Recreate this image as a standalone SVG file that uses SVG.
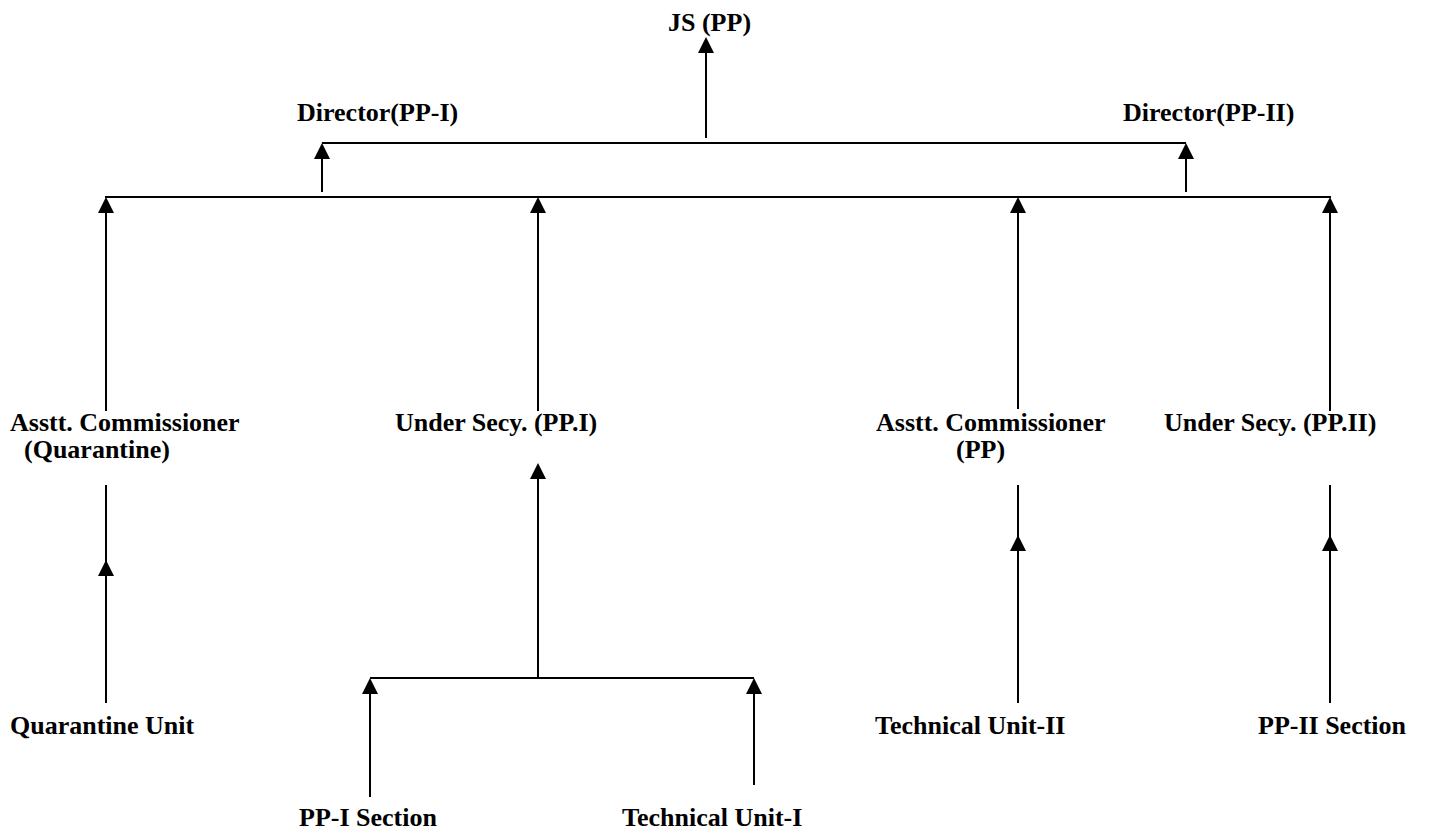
<svg xmlns="http://www.w3.org/2000/svg" width="1431" height="835" viewBox="0 0 1431 835">
<style>
text{font-family:"Liberation Serif","Times New Roman",serif;font-weight:bold;font-size:26px;fill:#000}
.ln{stroke:#000;stroke-width:2;fill:none}
.ar{stroke:#000;stroke-width:2;fill:none;marker-end:url(#ah)}
</style>
<defs>
<marker id="ah" viewBox="0 0 16 16" markerWidth="16" markerHeight="16" refX="8" refY="8" orient="auto" markerUnits="userSpaceOnUse">
<path d="M0,0 L16,8 L0,16 z" fill="#000"/>
</marker>
</defs>
<rect width="1431" height="835" fill="#fff"/>
<g id="connectors">
<path class="ln" d="M322,143 H1186"/>
<path class="ln" d="M105,197 H1331"/>
<path class="ln" d="M370,678 H754"/>
<path class="ar" d="M706,138 V45"/>
<path class="ar" d="M322,192 V151"/>
<path class="ar" d="M1186,192 V151"/>
<path class="ar" d="M106,411 V205"/>
<path class="ar" d="M538,411 V205"/>
<path class="ar" d="M1018,409 V205"/>
<path class="ar" d="M1330,411 V205"/>
<path class="ln" d="M106,485 V565"/>
<path class="ar" d="M106,703 V568"/>
<path class="ln" d="M1018,485 V540"/>
<path class="ar" d="M1018,703 V543"/>
<path class="ln" d="M1330,485 V540"/>
<path class="ar" d="M1330,703 V543"/>
<path class="ar" d="M538,678 V471"/>
<path class="ar" d="M370,797 V686"/>
<path class="ar" d="M754,785 V686"/>
</g>
<g id="js"><text x="668" y="31">JS (PP)</text></g>
<g id="dir1"><text x="297" y="121">Director(PP-I)</text></g>
<g id="dir2"><text x="1123" y="121">Director(PP-II)</text></g>
<g id="ac-q"><text x="10" y="431">Asstt. Commissioner<tspan x="24" dy="27">(Quarantine)</tspan></text></g>
<g id="us1"><text x="395" y="431">Under Secy. (PP.I)</text></g>
<g id="ac-pp"><text x="876" y="431">Asstt. Commissioner<tspan x="956" dy="27">(PP)</tspan></text></g>
<g id="us2"><text x="1164" y="431">Under Secy. (PP.II)</text></g>
<g id="qu"><text x="10" y="734">Quarantine Unit</text></g>
<g id="tu2"><text x="875" y="734">Technical Unit-II</text></g>
<g id="pp2"><text x="1258" y="734">PP-II Section</text></g>
<g id="pp1"><text x="299" y="826">PP-I Section</text></g>
<g id="tu1"><text x="622" y="826">Technical Unit-I</text></g>
</svg>
